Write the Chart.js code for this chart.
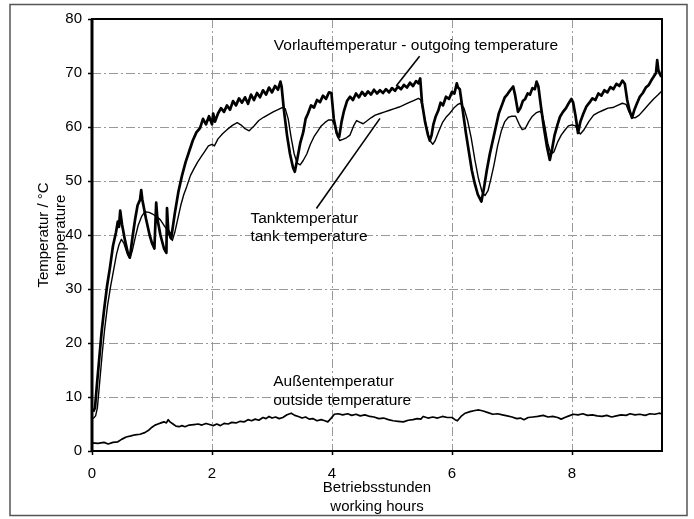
<!DOCTYPE html>
<html>
<head>
<meta charset="utf-8">
<title>Temperaturverlauf</title>
<script src="https://cdn.jsdelivr.net/npm/chart.js@4.4.4/dist/chart.umd.min.js"></script>
<style>
  html, body { margin: 0; padding: 0; background: #fff; }
  canvas { display: block; }
</style>
</head>
<body>
<canvas id="chart" width="694" height="519"></canvas>
<script>
// values (hours / °C)
const outgoingHours = [0.02, 0.05, 0.08, 0.12, 0.16, 0.2, 0.25, 0.3, 0.35, 0.4, 0.43, 0.45, 0.47, 0.5, 0.55, 0.6, 0.63, 0.68, 0.72, 0.76, 0.8, 0.82, 0.84, 0.9, 0.96, 1.0, 1.04, 1.07, 1.09, 1.14, 1.2, 1.24, 1.25, 1.27, 1.32, 1.38, 1.44, 1.5, 1.56, 1.62, 1.68, 1.74, 1.8, 1.85, 1.9, 1.95, 2.0, 2.02, 2.05, 2.1, 2.15, 2.2, 2.25, 2.3, 2.35, 2.4, 2.45, 2.5, 2.55, 2.6, 2.65, 2.7, 2.75, 2.8, 2.85, 2.9, 2.95, 3.0, 3.05, 3.1, 3.14, 3.16, 3.2, 3.25, 3.3, 3.35, 3.38, 3.42, 3.47, 3.52, 3.56, 3.6, 3.65, 3.7, 3.75, 3.8, 3.85, 3.9, 3.95, 3.99, 4.03, 4.08, 4.12, 4.16, 4.2, 4.25, 4.3, 4.35, 4.4, 4.45, 4.5, 4.55, 4.6, 4.65, 4.7, 4.75, 4.8, 4.85, 4.9, 4.95, 5.0, 5.05, 5.1, 5.15, 5.2, 5.25, 5.3, 5.35, 5.4, 5.44, 5.47, 5.5, 5.55, 5.6, 5.63, 5.66, 5.69, 5.73, 5.77, 5.81, 5.85, 5.9, 5.95, 6.0, 6.04, 6.08, 6.1, 6.13, 6.18, 6.23, 6.28, 6.33, 6.38, 6.43, 6.49, 6.53, 6.58, 6.63, 6.68, 6.73, 6.78, 6.83, 6.88, 6.92, 6.97, 7.02, 7.05, 7.1, 7.14, 7.18, 7.22, 7.26, 7.3, 7.34, 7.38, 7.41, 7.44, 7.48, 7.53, 7.58, 7.63, 7.67, 7.71, 7.76, 7.8, 7.85, 7.9, 7.95, 7.99, 8.02, 8.06, 8.1, 8.14, 8.19, 8.24, 8.29, 8.34, 8.39, 8.44, 8.49, 8.54, 8.59, 8.64, 8.69, 8.74, 8.79, 8.84, 8.88, 8.92, 8.96, 9.0, 9.04, 9.08, 9.13, 9.18, 9.23, 9.28, 9.32, 9.36, 9.4, 9.42, 9.44, 9.47, 9.49]
const outgoingTemps = [7.3, 8, 12, 17, 22, 26, 30.5, 34, 38, 40.5, 42.5, 41.5, 44.5, 42, 39, 36.5, 35.8, 40, 43, 45.5, 46.5, 48.3, 46.5, 43, 40, 38.5, 37.5, 46, 43, 40, 37.5, 36.7, 45, 41, 39.4, 44, 48, 51, 53.5, 55.5, 57.5, 59, 59.8, 61.5, 60.5, 62, 60.5, 62.5, 61, 62.5, 63.5, 62.8, 64, 63.2, 64.8, 64, 65.3, 64.5, 65.5, 64.3, 66, 65, 66.3, 65.5, 66.8, 66, 67.3, 66.4, 67.6, 66.9, 68.4, 67.5, 63, 58.5, 55, 52.5, 51.7, 54, 57, 59, 61.5, 62.5, 64, 63.6, 65, 64.6, 65.8, 65.2, 66.4, 66.3, 61.5, 58.8, 58.2, 61, 63, 64.8, 65.6, 65, 66.2, 65.5, 66.5, 65.8, 66.6, 66, 66.9, 66.2, 66.8, 66.3, 67, 66.4, 67.2, 66.7, 67.5, 67, 67.8, 67.3, 68.2, 67.6, 68.5, 68.1, 69, 64.5, 61, 58.5, 57.5, 58.5, 60.5, 62, 63, 64.5, 64, 65.6, 65.2, 66.5, 66.2, 68.1, 67.3, 67, 63, 59, 55.5, 52, 49.5, 47.5, 46.2, 48.5, 52, 55, 57.5, 60, 62.5, 64, 65.5, 66, 66.8, 67.5, 66, 62.8, 63.5, 64.8, 65.2, 66.2, 66, 67.2, 67, 68.4, 67.5, 64, 60, 56.5, 53.9, 56, 58.5, 60.5, 61.9, 62.8, 63.5, 64.5, 65.2, 64.5, 62, 58.9, 61, 62.5, 63.8, 64.5, 65.3, 65, 66.2, 65.8, 66.8, 66.4, 67.4, 67, 68, 67.6, 68.6, 68, 65, 63, 61.7, 63.2, 64.3, 65.6, 66.3, 67.3, 67.8, 68.6, 69.3, 70, 72.4, 70.5, 69.7, 69.3]

const tankHours = [0.02, 0.06, 0.09, 0.13, 0.17, 0.21, 0.26, 0.31, 0.36, 0.41, 0.45, 0.49, 0.53, 0.58, 0.63, 0.67, 0.72, 0.77, 0.83, 0.88, 0.95, 1.02, 1.08, 1.14, 1.2, 1.26, 1.3, 1.34, 1.38, 1.43, 1.48, 1.53, 1.58, 1.64, 1.7, 1.76, 1.82, 1.88, 1.94, 2.0, 2.04, 2.1, 2.18, 2.26, 2.34, 2.42, 2.48, 2.55, 2.62, 2.7, 2.78, 2.86, 2.94, 3.02, 3.1, 3.17, 3.22, 3.27, 3.32, 3.37, 3.42, 3.47, 3.52, 3.58, 3.64, 3.7, 3.76, 3.82, 3.88, 3.94, 4.0, 4.04, 4.09, 4.13, 4.18, 4.24, 4.3, 4.36, 4.41, 4.46, 4.52, 4.58, 4.65, 4.72, 4.8, 4.88, 4.96, 5.04, 5.12, 5.2, 5.28, 5.36, 5.44, 5.48, 5.53, 5.58, 5.63, 5.68, 5.72, 5.78, 5.84, 5.9, 5.96, 6.03, 6.1, 6.14, 6.2, 6.26, 6.32, 6.38, 6.44, 6.5, 6.55, 6.6, 6.65, 6.7, 6.76, 6.82, 6.88, 6.94, 7.0, 7.06, 7.12, 7.17, 7.22, 7.28, 7.34, 7.4, 7.46, 7.5, 7.55, 7.6, 7.65, 7.7, 7.76, 7.82, 7.88, 7.94, 8.0, 8.06, 8.1, 8.14, 8.2, 8.28, 8.36, 8.44, 8.52, 8.6, 8.68, 8.76, 8.84, 8.9, 8.95, 9.0, 9.05, 9.12, 9.2, 9.28, 9.36, 9.44, 9.49]
const tankTemps = [6, 6.5, 8, 13, 18, 22.5, 27, 30.5, 33.5, 36.5, 38.2, 39.2, 38.5, 36.8, 35.7, 37, 39.5, 41.8, 43.5, 44.3, 44.2, 43.8, 43.4, 42.8, 41.8, 40.8, 39.5, 39, 40.5, 43, 45.5, 47.5, 49, 51, 52.3, 53.5, 54.5, 55.5, 56.5, 56.8, 56.5, 57.8, 58.8, 59.6, 60.3, 60.8, 60.4, 59.7, 59.3, 60.2, 61.2, 61.8, 62.3, 62.8, 63.2, 63.6, 63.4, 61.5, 58, 55, 53.3, 53, 53.8, 55, 56.8, 58.2, 59.2, 60.2, 60.8, 61.3, 61.3, 60.5, 58.2, 57.5, 57.7, 58, 58.5, 60.2, 61.2, 60.9, 60.6, 61.1, 61.7, 62.2, 62.5, 62.8, 63.1, 63.4, 63.7, 64.1, 64.5, 64.9, 65.3, 65, 62.5, 59.5, 57.5, 56.8, 57.5, 59.2, 60.8, 61.8, 62.5, 63.5, 64.2, 64.4, 63.5, 61.2, 58, 54, 50.5, 48, 47.3, 48.2, 50.5, 53, 56.5, 59.2, 61, 61.8, 62, 62, 60.5, 59.5, 59.7, 61, 62, 62.6, 62.9, 62.5, 60, 56.8, 55, 55.4, 57.2, 58.5, 59.4, 60.2, 60.4, 60.2, 59.2, 58.7, 59.5, 61, 62.2, 62.7, 63.1, 63.5, 63.6, 64, 64.4, 64.2, 62.8, 61.8, 61.7, 62.2, 63.2, 64.2, 65.2, 66, 66.6]

const outsideHours = [0.0, 0.1, 0.2, 0.27, 0.35, 0.43, 0.5, 0.57, 0.65, 0.72, 0.8, 0.88, 0.95, 1.0, 1.05, 1.1, 1.15, 1.2, 1.24, 1.27, 1.3, 1.35, 1.4, 1.45, 1.5, 1.55, 1.62, 1.7, 1.77, 1.83, 1.9, 1.96, 2.02, 2.08, 2.14, 2.2, 2.27, 2.33, 2.4, 2.47, 2.54, 2.6, 2.66, 2.72, 2.78, 2.85, 2.9, 2.95, 3.0, 3.06, 3.12, 3.18, 3.25, 3.32, 3.38, 3.44, 3.5, 3.56, 3.62, 3.68, 3.75, 3.82, 3.88, 3.93, 3.98, 4.04, 4.1, 4.18, 4.26, 4.33, 4.4, 4.47, 4.55, 4.63, 4.7, 4.78, 4.86, 4.94, 5.02, 5.1, 5.19, 5.27, 5.35, 5.42, 5.48, 5.52, 5.6, 5.68, 5.76, 5.84, 5.92, 6.0, 6.05, 6.09, 6.15, 6.22, 6.3, 6.38, 6.45, 6.52, 6.6, 6.68, 6.76, 6.84, 6.92, 7.0, 7.08, 7.14, 7.2, 7.27, 7.35, 7.43, 7.52, 7.6, 7.68, 7.76, 7.82, 7.88, 7.95, 8.02, 8.1, 8.18, 8.26, 8.34, 8.42, 8.5, 8.58, 8.66, 8.74, 8.82, 8.9, 8.97, 9.05, 9.13, 9.22, 9.3, 9.38, 9.45, 9.49]
const outsideTemps = [1.5, 1.4, 1.6, 1.3, 1.6, 1.7, 2.2, 2.6, 2.8, 3.0, 3.1, 3.4, 3.9, 4.4, 4.8, 5.0, 5.2, 5.4, 5.2, 5.8, 5.4, 5.0, 4.6, 4.5, 4.7, 4.5, 4.8, 4.9, 5.0, 4.8, 5.1, 4.9, 4.7, 5.0, 4.7, 5.1, 5.0, 5.3, 5.2, 5.5, 5.4, 5.8, 5.6, 5.9, 5.7, 6.2, 6.0, 6.4, 6.1, 6.3, 6.0, 6.2, 6.7, 7.0, 6.6, 6.4, 6.1, 6.3, 5.9, 6.0, 5.6, 5.8, 5.6, 5.4, 6.0, 6.8, 6.9, 6.7, 6.9, 6.6, 6.8, 6.5, 6.7, 6.4, 6.3, 6.0, 6.1, 5.8, 5.6, 5.5, 5.4, 5.7, 5.8, 6.0, 5.9, 6.4, 6.1, 6.3, 6.1, 6.4, 6.2, 6.2, 5.8, 5.6, 6.4, 7.0, 7.3, 7.5, 7.6, 7.4, 7.1, 6.8, 6.9, 6.7, 6.5, 6.3, 6.0, 6.1, 5.8, 6.2, 6.3, 6.4, 6.6, 6.3, 6.4, 6.2, 5.9, 6.2, 6.5, 6.8, 6.7, 6.9, 6.6, 6.7, 6.5, 6.4, 6.6, 6.3, 6.5, 6.7, 6.6, 6.9, 6.7, 6.8, 6.6, 6.9, 6.8, 7.0, 6.9]

const xTicks = [0, 2, 4, 6, 8]
const yTicks = [0, 10, 20, 30, 40, 50, 60, 70, 80]

// text labels inside the plot, anchored in data units
const notes = [
    { lines: ['Vorlauftemperatur - outgoing temperature'], at: [3.03, 75] },
    { lines: ['Tanktemperatur', 'tank temperature'], at: [2.64, 43.1] },
    { lines: ['Außentemperatur', 'outside temperature'], at: [3.02, 12.8] }
]
const leaders = [
    [[5.07, 67.6], [5.46, 73.1]],
    [[3.74, 44.9], [4.8, 61.6]]
]

const FONT = "'Liberation Sans', Arial, sans-serif"
Chart.defaults.font.family = FONT
Chart.defaults.font.size = 15
Chart.defaults.color = '#000'

const toPoints = (xs, ys) => xs.map((x, i) => ({ x: x, y: ys[i] }))

const overlay = {
    id: 'overlay',
    beforeDraw(chart) {
        const ctx = chart.ctx
        ctx.save()
        ctx.fillStyle = '#fff'
        ctx.fillRect(0, 0, chart.width, chart.height)
        ctx.restore()
    },
    afterDraw(chart) {
        const { ctx, chartArea: a, scales } = chart
        const px = p => [scales.x.getPixelForValue(p[0]), scales.y.getPixelForValue(p[1])]
        ctx.save()

        // outer frame of the figure
        ctx.strokeStyle = '#555'
        ctx.lineWidth = 1.5
        ctx.strokeRect(10, 4.5, 677, 511)

        // plot frame
        ctx.strokeStyle = '#000'
        ctx.lineWidth = 2
        ctx.strokeRect(a.left, a.top, a.right - a.left, a.bottom - a.top)
        ctx.lineWidth = 3
        ctx.beginPath()
        ctx.moveTo(a.left, a.top)
        ctx.lineTo(a.left, a.bottom)
        ctx.stroke()

        // leader lines
        ctx.lineWidth = 1.6
        leaders.forEach(l => {
            const p0 = px(l[0]), p1 = px(l[1])
            ctx.beginPath()
            ctx.moveTo(p0[0], p0[1])
            ctx.lineTo(p1[0], p1[1])
            ctx.stroke()
        })

        // labels
        ctx.fillStyle = '#000'
        ctx.font = '15.5px ' + FONT
        ctx.textAlign = 'left'
        ctx.textBaseline = 'middle'
        notes.forEach(n => {
            const p = px(n.at)
            n.lines.forEach((t, i) => ctx.fillText(t, p[0], p[1] + i * 18.5))
        })
        ctx.restore()
    }
}

const gridStyle = {
    color: '#999',
    lineWidth: 1,
    tickLength: 4,
    tickColor: '#000',
    tickWidth: 1.5
}

new Chart(document.getElementById('chart'), {
    type: 'line',
    data: {
        datasets: [
            {
                label: 'Vorlauftemperatur',
                data: toPoints(outgoingHours, outgoingTemps),
                borderColor: '#000',
                borderWidth: 2.7
            },
            {
                label: 'Tanktemperatur',
                data: toPoints(tankHours, tankTemps),
                borderColor: '#000',
                borderWidth: 1.4
            },
            {
                label: 'Außentemperatur',
                data: toPoints(outsideHours, outsideTemps),
                borderColor: '#000',
                borderWidth: 1.7
            }
        ]
    },
    options: {
        responsive: false,
        animation: false,
        devicePixelRatio: 1,
        layout: { padding: { top: 19, right: 32, bottom: 0, left: 0 } },
        elements: {
            point: { radius: 0 },
            line: { tension: 0, borderJoinStyle: 'round' }
        },
        plugins: {
            legend: { display: false },
            tooltip: { enabled: false }
        },
        scales: {
            x: {
                type: 'linear',
                min: 0,
                max: 9.5,
                afterFit: s => { s.height = 68 },
                afterBuildTicks: s => { s.ticks = xTicks.map(v => ({ value: v })) },
                grid: gridStyle,
                border: { display: false, dash: [9, 3, 2, 3] },
                ticks: { padding: 10, maxRotation: 0, font: { size: 15 } },
                title: {
                    display: true,
                    text: ['Betriebsstunden', 'working hours'],
                    font: { size: 15, lineHeight: 1.25 },
                    padding: { top: 0, bottom: 3 }
                }
            },
            y: {
                min: 0,
                max: 80,
                afterFit: s => { s.width = 92 },
                afterBuildTicks: s => { s.ticks = yTicks.map(v => ({ value: v })) },
                grid: gridStyle,
                border: { display: false, dash: [9, 3, 2, 3] },
                ticks: { padding: 6, font: { size: 15 } },
                title: {
                    display: true,
                    text: ['Temperatur / °C', 'temperature'],
                    font: { size: 15, lineHeight: 1.15 },
                    padding: { top: 35, bottom: 0 }
                }
            }
        }
    },
    plugins: [overlay]
})
</script>
</body>
</html>
